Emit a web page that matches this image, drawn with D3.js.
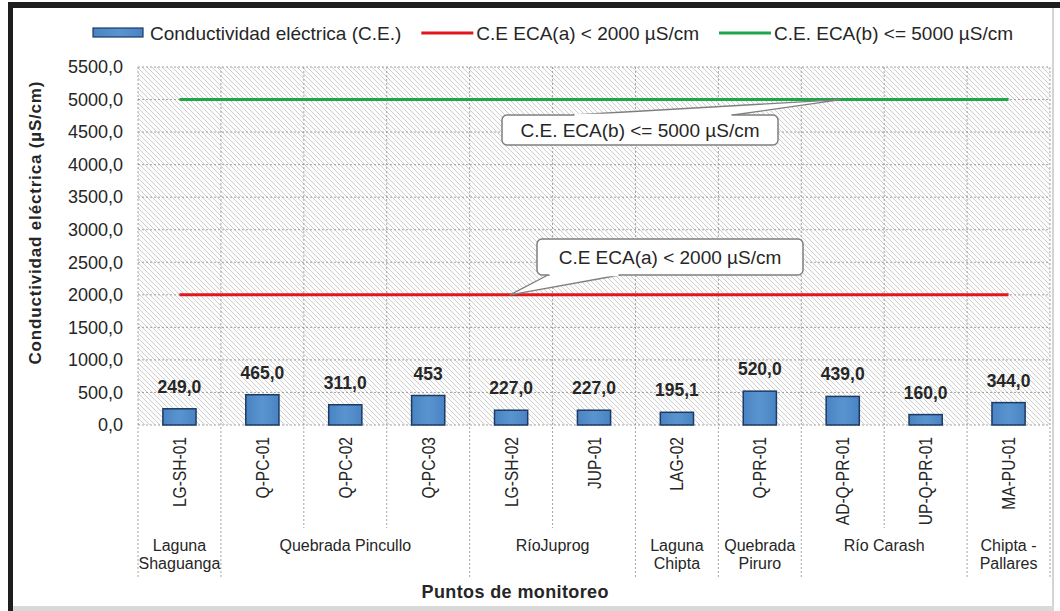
<!DOCTYPE html>
<html>
<head>
<meta charset="utf-8">
<script src="https://cdn.jsdelivr.net/npm/d3@7"></script>
<style>
  body { margin: 0; background: #fff; }
  svg { display: block; }
  text { font-family: "Liberation Sans", Arial, sans-serif; fill: #262626; }
</style>
</head>
<body>
<svg id="chart" width="1060" height="611"></svg>
<script>
// Monitoring stations and measured electrical conductivity (µS/cm)
const stations = ["LG-SH-01", "Q-PC-01", "Q-PC-02", "Q-PC-03", "LG-SH-02", "JUP-01",
                  "LAG-02", "Q-PR-01", "AD-Q-PR-01", "UP-Q-PR-01", "MA-PU-01"];
const values = [249.0, 465.0, 311.0, 453, 227.0, 227.0, 195.1, 520.0, 439.0, 160.0, 344.0];
const valueDecimals = [1, 1, 1, 0, 1, 1, 1, 1, 1, 1, 1];

// Water bodies grouping the stations (second axis level)
const groupNames = [["Laguna", "Shaguanga"], ["Quebrada Pincullo"], ["RíoJuprog"],
                    ["Laguna", "Chipta"], ["Quebrada", "Piruro"], ["Río Carash"],
                    ["Chipta -", "Pallares"]];
const groupSizes = [1, 3, 2, 1, 1, 2, 1];

// Regulatory limits (ECA)
const limitA = 2000;
const limitB = 5000;

const yTicks = d3.range(0, 5501, 500);
const legendLabels = ["Conductividad eléctrica (C.E.)", "C.E ECA(a) < 2000 µS/cm", "C.E. ECA(b) <= 5000 µS/cm"];
const yTitle = "Conductividad eléctrica (µS/cm)";
const xTitle = "Puntos de monitoreo";

const colors = { bar: "#4f89c8", barStroke: "#1c3a63", red: "#e3161d", green: "#1ea64a", grid: "#8e8e8e" };

const svg = d3.select("#chart");
const plot = { left: 138, right: 1050, top: 67, bottom: 425 };

const x = d3.scaleBand().domain(stations).range([plot.left, plot.right])
  .paddingInner(0.6).paddingOuter(0.3);
const y = d3.scaleLinear().domain([0, 5500]).range([plot.bottom, plot.top]);
const step = x.step();
const cx = s => x(s) + x.bandwidth() / 2;
const comma = (v, d) => d3.format("." + d + "f")(v).replace(".", ",");

// ---- patterns / gradients ----
const defs = svg.append("defs");
const pat = defs.append("pattern").attr("id", "hatch").attr("width", 5).attr("height", 5)
  .attr("patternUnits", "userSpaceOnUse");
pat.append("rect").attr("width", 5).attr("height", 5).attr("fill", "#fcfcfc");
pat.append("path").attr("d", "M0,0L5,5M-1,4L1,6M4,-1L6,1")
  .attr("stroke", "#c4c4c4").attr("stroke-width", 0.8);
const grad = defs.append("linearGradient").attr("id", "barGrad").attr("x1", 0).attr("x2", 1);
grad.append("stop").attr("offset", "0%").attr("stop-color", "#4a83c2");
grad.append("stop").attr("offset", "50%").attr("stop-color", "#5a94d0");
grad.append("stop").attr("offset", "100%").attr("stop-color", "#4a83c2");

// ---- outer frame ----
svg.append("rect").attr("x", 0).attr("y", 0).attr("width", 1060).attr("height", 611).attr("fill", "#fff");
svg.append("rect").attr("x", 8).attr("y", 2).attr("width", 1052).attr("height", 6).attr("fill", "#1e1e1e");
svg.append("rect").attr("x", 8).attr("y", 2).attr("width", 5).attr("height", 609).attr("fill", "#1e1e1e");
svg.append("rect").attr("x", 1052).attr("y", 8).attr("width", 2).attr("height", 603).attr("fill", "#d4d4d4");
svg.append("rect").attr("x", 13).attr("y", 606).attr("width", 1041).attr("height", 5).attr("fill", "#d9d9d9");

// ---- plot background ----
svg.append("rect").attr("x", plot.left).attr("y", plot.top)
  .attr("width", plot.right - plot.left).attr("height", plot.bottom - plot.top)
  .attr("fill", "url(#hatch)");

// horizontal gridlines
svg.append("g").selectAll("line").data(yTicks).join("line")
  .attr("x1", plot.left).attr("x2", plot.right)
  .attr("y1", d => y(d)).attr("y2", d => y(d))
  .attr("stroke", colors.grid).attr("stroke-width", 0.8).attr("stroke-dasharray", "2,2");

// category boundaries (plot + label area)
const groupEnds = new Set(d3.cumsum(groupSizes));
groupEnds.add(0);
svg.append("g").selectAll("line").data(d3.range(0, stations.length + 1)).join("line")
  .attr("x1", i => plot.left + i * step).attr("x2", i => plot.left + i * step)
  .attr("y1", plot.top).attr("y2", i => groupEnds.has(i) ? 577 : 528)
  .attr("stroke", colors.grid).attr("stroke-width", 0.8).attr("stroke-dasharray", "2,2");

// ---- bars ----
svg.append("g").selectAll("rect").data(stations).join("rect")
  .attr("x", d => x(d)).attr("width", x.bandwidth())
  .attr("y", (d, i) => y(values[i])).attr("height", (d, i) => y(0) - y(values[i]))
  .attr("fill", "url(#barGrad)").attr("stroke", colors.barStroke).attr("stroke-width", 1.5);

// value labels
svg.append("g").selectAll("text").data(stations).join("text")
  .attr("x", d => cx(d)).attr("y", (d, i) => y(values[i]) - 16)
  .attr("text-anchor", "middle").attr("font-weight", "bold").attr("font-size", 17.5)
  .text((d, i) => comma(values[i], valueDecimals[i]));

// ---- limit lines ----
const first = cx(stations[0]), last = cx(stations[stations.length - 1]);
[[limitA, colors.red], [limitB, colors.green]].forEach(([v, c]) => {
  svg.append("line").attr("x1", first).attr("x2", last).attr("y1", y(v)).attr("y2", y(v))
    .attr("stroke", c).attr("stroke-width", 3);
});

// ---- callouts ----
function callout(box, base, tip, label) {
  const g = svg.append("g");
  g.append("path")
    .attr("d", `M${base[0][0]},${base[0][1]}L${tip[0]},${tip[1]}L${base[1][0]},${base[1][1]}Z`)
    .attr("fill", "#fff").attr("stroke", "#7f7f7f").attr("stroke-width", 1.3);
  g.append("rect").attr("x", box.x).attr("y", box.y).attr("width", box.w).attr("height", box.h)
    .attr("rx", 5).attr("fill", "#fff").attr("stroke", "#7f7f7f").attr("stroke-width", 1.5);
  g.append("line").attr("x1", base[0][0] + 1.5).attr("x2", base[1][0] - 1.5)
    .attr("y1", base[0][1]).attr("y2", base[1][1]).attr("stroke", "#fff").attr("stroke-width", 2.5);
  g.append("text").attr("x", box.x + box.w / 2).attr("y", box.y + box.h / 2 + 6.5)
    .attr("text-anchor", "middle").attr("font-size", 19).text(label);
}
callout({ x: 502, y: 115, w: 276, h: 30 }, [[573, 115], [733, 115]], [841, y(limitB)], legendLabels[2]);
callout({ x: 537, y: 239, w: 266, h: 36 }, [[548, 275], [620, 275]], [510, y(limitA)], legendLabels[1]);

// ---- y axis ----
const yAxis = svg.append("g").attr("transform", `translate(${plot.left},0)`)
  .call(d3.axisLeft(y).tickValues(yTicks).tickSize(0).tickPadding(15).tickFormat(d => comma(d, 1)));
yAxis.select(".domain").remove();
yAxis.selectAll("text").attr("font-size", 18).attr("fill", "#262626")
  .attr("font-family", "Liberation Sans, Arial, sans-serif");

svg.append("text").attr("transform", "translate(41,223) rotate(-90)")
  .attr("text-anchor", "middle").attr("font-weight", "bold").attr("font-size", 17)
  .attr("textLength", 283).attr("lengthAdjust", "spacing").text(yTitle);

// ---- x axis (station names, rotated) ----
const xAxis = svg.append("g").attr("transform", `translate(0,${plot.bottom})`)
  .call(d3.axisBottom(x).tickSize(0).tickPadding(0));
xAxis.select(".domain").remove();
xAxis.selectAll(".tick text")
  .attr("y", 0).attr("dy", null)
  .attr("transform", "translate(6.5,12) rotate(-90) scale(0.82,1)")
  .attr("text-anchor", "end").attr("font-size", 19).attr("fill", "#262626")
  .attr("font-family", "Liberation Sans, Arial, sans-serif");

// group labels
let start = 0;
groupNames.forEach((lines, gi) => {
  const n = groupSizes[gi];
  const mid = plot.left + (start + n / 2) * step;
  const t = svg.append("text").attr("x", mid).attr("y", 551)
    .attr("text-anchor", "middle").attr("font-size", 16);
  lines.forEach((ln, li) => t.append("tspan").attr("x", mid).attr("dy", li === 0 ? 0 : 18).text(ln));
  start += n;
});

svg.append("text").attr("x", 515).attr("y", 598).attr("text-anchor", "middle")
  .attr("font-weight", "bold").attr("font-size", 18)
  .attr("textLength", 187).attr("lengthAdjust", "spacing").text(xTitle);

// ---- legend ----
const legend = svg.append("g");
let lx = 93;
const ly = 33;
legend.append("rect").attr("x", lx).attr("y", ly - 5).attr("width", 50).attr("height", 9)
  .attr("fill", "url(#barGrad)").attr("stroke", colors.barStroke).attr("stroke-width", 1.2);
lx += 57;
const legendItems = [null, colors.red, colors.green];
legendLabels.forEach((lab, i) => {
  if (i > 0) {
    lx += 20;
    legend.append("line").attr("x1", lx).attr("x2", lx + 52).attr("y1", ly).attr("y2", ly)
      .attr("stroke", legendItems[i]).attr("stroke-width", 3);
    lx += 55;
  }
  const t = legend.append("text").attr("x", lx).attr("y", ly + 7).attr("font-size", 19).text(lab);
  lx += t.node().getComputedTextLength();
});
</script>
</body>
</html>
